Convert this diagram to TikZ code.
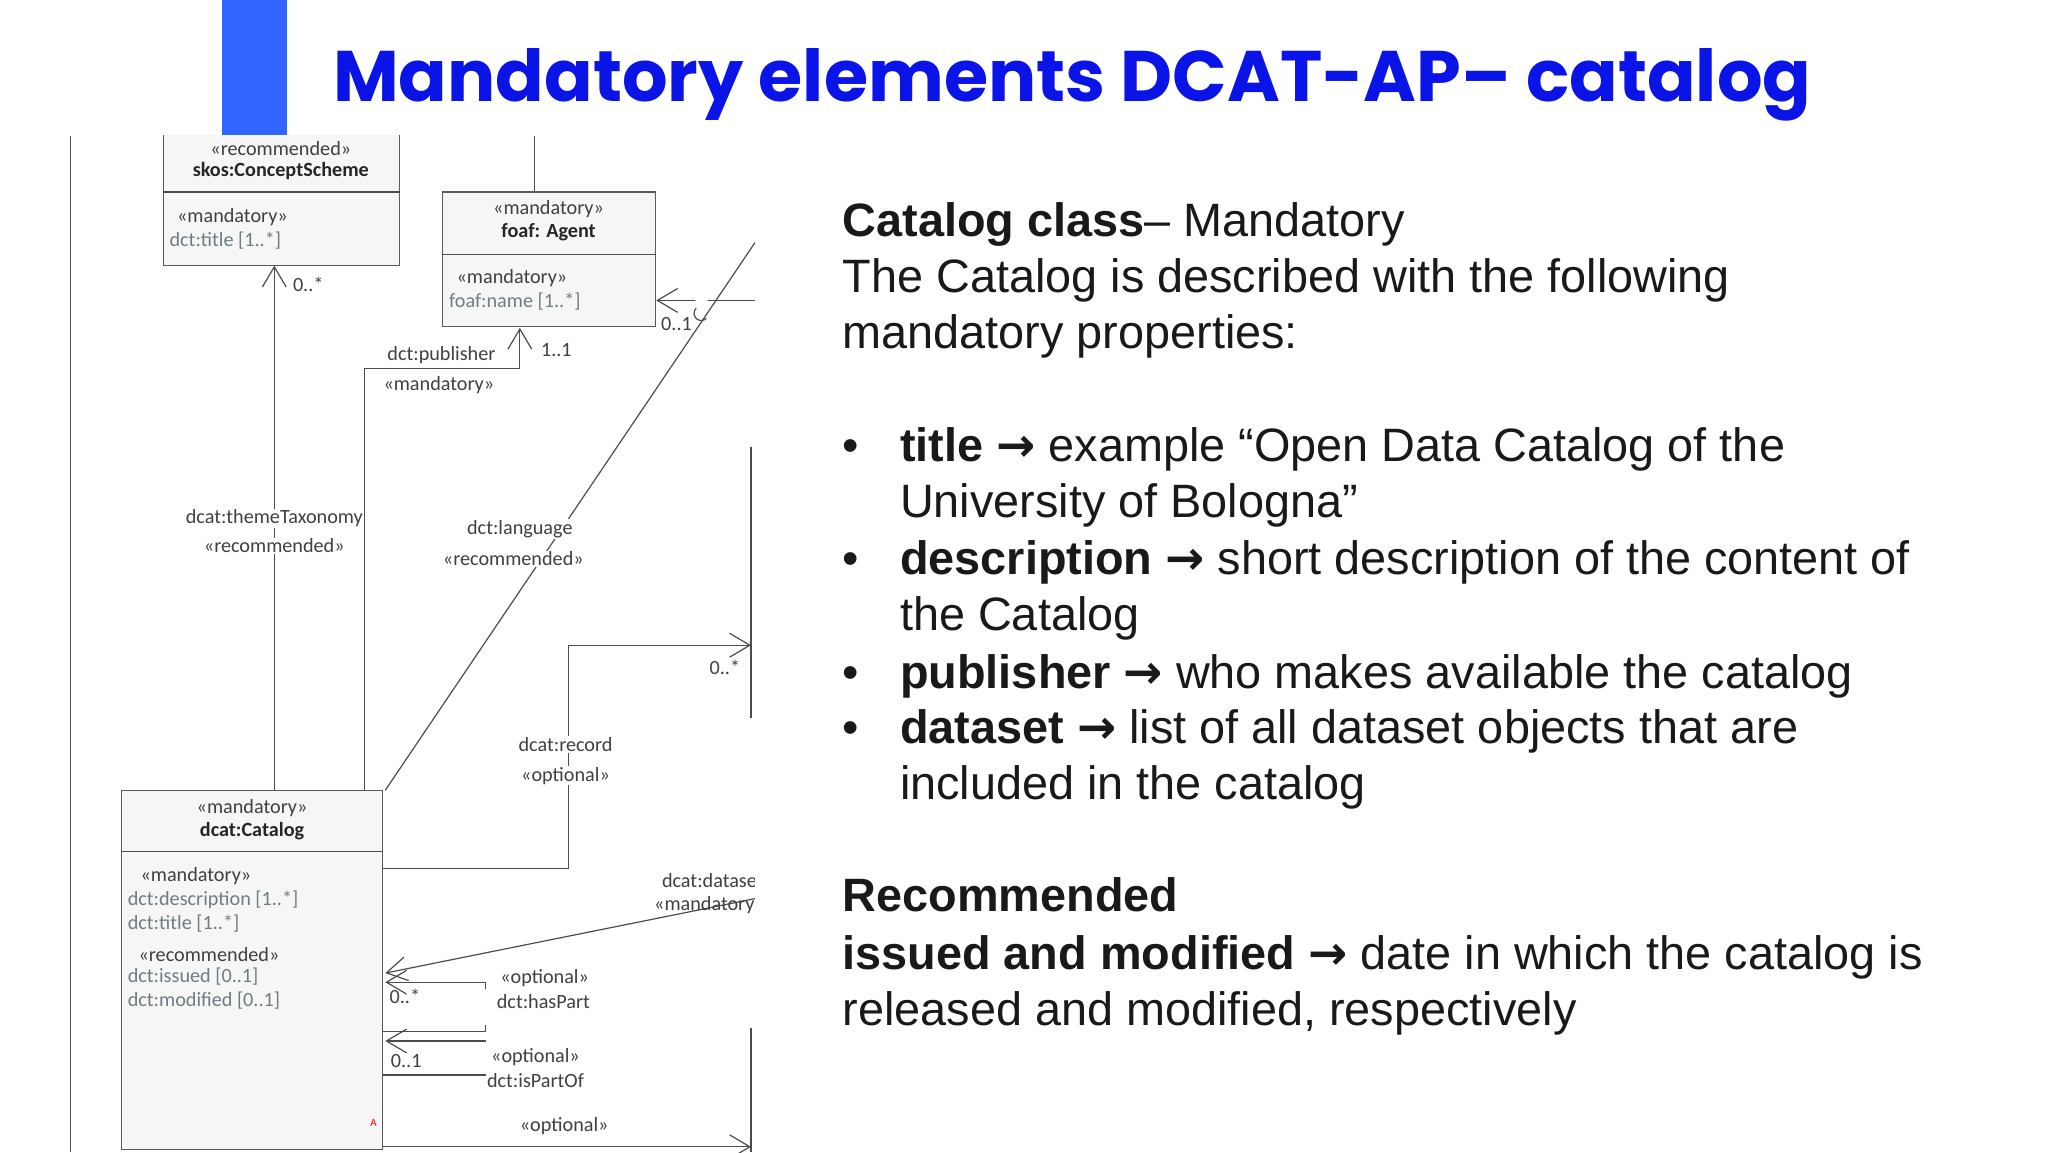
\documentclass[tikz,border=0pt]{standalone}
\usepackage{fontspec}
\setmainfont{Liberation Sans}
\newfontfamily\titlefont{Poppins}
\newfontfamily\umlfont{Carlito}
\newfontfamily\arrfont{DejaVu Sans}
\usetikzlibrary{arrows.meta}
\definecolor{titleblue}{RGB}{10,20,230}
\definecolor{barblue}{RGB}{50,100,255}
\definecolor{attr}{RGB}{110,125,130}
\newcommand{\ar}{{\arrfont\bfseries →}}
\begin{document}
\begin{tikzpicture}[x=0.05cm,y=-0.05cm,
  ubox/.style={draw=gray!70!black,fill=gray!7,line width=1.2pt,rectangle,inner sep=0pt},
  uml/.style={font=\umlfont\fontsize{22}{24}\selectfont,text=black!75,inner sep=1pt},
  umlb/.style={uml,font=\umlfont\bfseries\fontsize{22}{24}\selectfont,text=black!85},
  att/.style={uml,text=attr,anchor=west},
  conn/.style={draw=gray!60!black,line width=1.3pt},
  open/.style={-{Straight Barb[length=22pt,width=26pt,line width=1.3pt]}},
  body/.style={anchor=base west,inner sep=0pt,font=\fontsize{51}{61}\selectfont,text=black!90}]
\useasboundingbox (0,0) rectangle (1568,882);
\fill[white] (0,0) rectangle (1568,882);
% title
\fill[barblue] (170,0) rectangle (220,104);
\node[anchor=base west,inner sep=0pt,text=titleblue,font=\titlefont\bfseries\fontsize{78}{90}\selectfont] (title) at (255,78) {Mandatory elements DCAT-AP– catalog};
% diagram
\begin{scope}
\clip (40,104) rectangle (578,882);
\draw[conn] (54,104) -- (54,882);
\node[ubox,minimum width=9.05cm,minimum height=5.65cm] (cs) at (215.5,146.5) {};
\draw[conn] (125,147) -- (306,147);
\node[uml] (cs1) at (215,114) {«recommended»};
\node[umlb] (cs2) at (215,131) {skos:ConceptScheme};
\node[uml] (cs3) at (178,166) {«mandatory»};
\node[att] (cs4) at (129,184) {dct:title [1..*]};
\coordinate (agtop) at (409,104);
\node[ubox,minimum width=8.15cm,minimum height=5.15cm] (ag) at (420.5,198.5) {};
\draw[conn] (agtop) -- (ag.north -| agtop);
\draw[conn] (339,195) -- (502,195);
\node[uml] (ag1) at (420,160) {«mandatory»};
\node[umlb] (ag2) at (420,178) {foaf: Agent};
\node[uml] (ag3) at (392,213) {«mandatory»};
\node[att] (ag4) at (343,231) {foaf:name [1..*]};
\node[ubox,minimum width=10cm,minimum height=13.75cm] (cat) at (193,742.5) {};
\draw[conn] (93,652) -- (293,652);
\node[uml] (c1) at (193,619) {«mandatory»};
\node[umlb] (c2) at (193,636) {dcat:Catalog};
\node[uml] (c3) at (150,671) {«mandatory»};
\node[att] (c4) at (97,689) {dct:description [1..*]};
\node[att] (c5) at (97,707) {dct:title [1..*]};
\node[uml] (c6) at (160,731) {«recommended»};
\node[att] (c7) at (97,748) {dct:issued [0..1]};
\node[att] (c8) at (97,766) {dct:modified [0..1]};
\node[uml,text=red] (c9) at (286,860) {\fontsize{12}{12}\selectfont A};
% right box edges
\coordinate (rb1t) at (575,342); \coordinate (rb1b) at (575,550);
\draw[conn] (rb1t) -- (rb1b);
\coordinate (rb2t) at (575,787); \coordinate (rb2b) at (575,882);
\draw[conn] (rb2t) -- (rb2b);
% themeTaxonomy
\coordinate (tt) at (210,605);
\draw[conn,open] (tt) -- (tt |- cs.south);
\node[uml] at (236,218) {0..*};
\node[uml,fill=white] at (210,397) {dcat:themeTaxonomy};
\node[uml,fill=white] at (210,418) {«recommended»};
% publisher
\coordinate (pb) at (279,605);
\draw[conn,open] (pb) -- (279,282) -- (398,282) -- (398,251);
\node[uml] at (338,272) {dct:publisher};
\node[uml] at (336,295) {«mandatory»};
\node[uml] at (426,268) {1..1};
% language
\coordinate (lgs) at (295,605); \coordinate (lge) at (590,168);
\draw[conn] (lgs) -- (lge);
\node[uml,fill=white] at (398,405) {dct:language};
\node[uml,fill=white] at (393,428) {«recommended»};
\coordinate (agr) at (578,230);
\draw[conn,open] (agr) -- (ag.east |- agr);
\fill[white] (537,232) circle (5);
\draw[conn] (533,236) arc[start angle=225,end angle=45,radius=5.5];
\node[uml] at (518,248) {0..1};
% record
\coordinate (rc) at (293,665);
\draw[conn,open] (rc) -- (435,665) -- (435,494) -- (rb1t |- 0,494);
\node[uml] at (555,511) {0..*};
\node[uml,fill=white] at (433,570) {dcat:record};
\node[uml,fill=white] at (433,594) {«optional»};
% dataset
\coordinate (ds) at (578,688);
\draw[conn,open] (ds) -- (295,745);
\node[uml,anchor=west] at (506,674) {dcat:dataset};
\node[uml,anchor=west] at (500,693) {«mandatory»};
% hasPart
\draw[conn,open] (372,757) -- (372,752) -- (295,752);
\draw[conn] (293,790) -- (372,790) -- (372,785);
\node[uml] at (310,763) {0..*};
\node[uml] at (417,749) {«optional»};
\node[uml] at (416,767) {dct:hasPart};
% isPartOf
\draw[conn,open] (372,797) -- (295,797);
\draw[conn] (293,823) -- (372,823);
\node[uml] at (311,812) {0..1};
\node[uml] at (410,809) {«optional»};
\node[uml] at (410,827) {dct:isPartOf};
% bottom
\coordinate (bt) at (293,878);
\draw[conn,open] (bt) -- (rb2t |- bt);
\node[uml] at (432,862) {«optional»};
\end{scope}
% right text
\node[body] (t1) at (645,181) {\textbf{Catalog class}– Mandatory};
\node[body] (t2) at (645,224) {The Catalog is described with the following};
\node[body] (t3) at (645,267) {mandatory properties:};
\foreach \y in {353,440,527,569} \node[body] at (645,\y) {•};
\node[body] (b1) at (689,353) {\textbf{title} \ar{} example “Open Data Catalog of the};
\node[body] (b1b) at (689,396) {University of Bologna”};
\node[body] (b2) at (689,440) {\textbf{description} \ar{} short description of the content of};
\node[body] (b2b) at (689,483) {the Catalog};
\node[body] (b3) at (689,527) {\textbf{publisher} \ar{} who makes available the catalog};
\node[body] (b4) at (689,569) {\textbf{dataset} \ar{} list of all dataset objects that are};
\node[body] (b4b) at (689,612) {included in the catalog};
\node[body] (r1) at (645,698) {\textbf{Recommended}};
\node[body] (r2) at (645,742) {\textbf{issued and modified} \ar{} date in which the catalog is};
\node[body] (r3) at (645,785) {released and modified, respectively};
\end{tikzpicture}
\end{document}
